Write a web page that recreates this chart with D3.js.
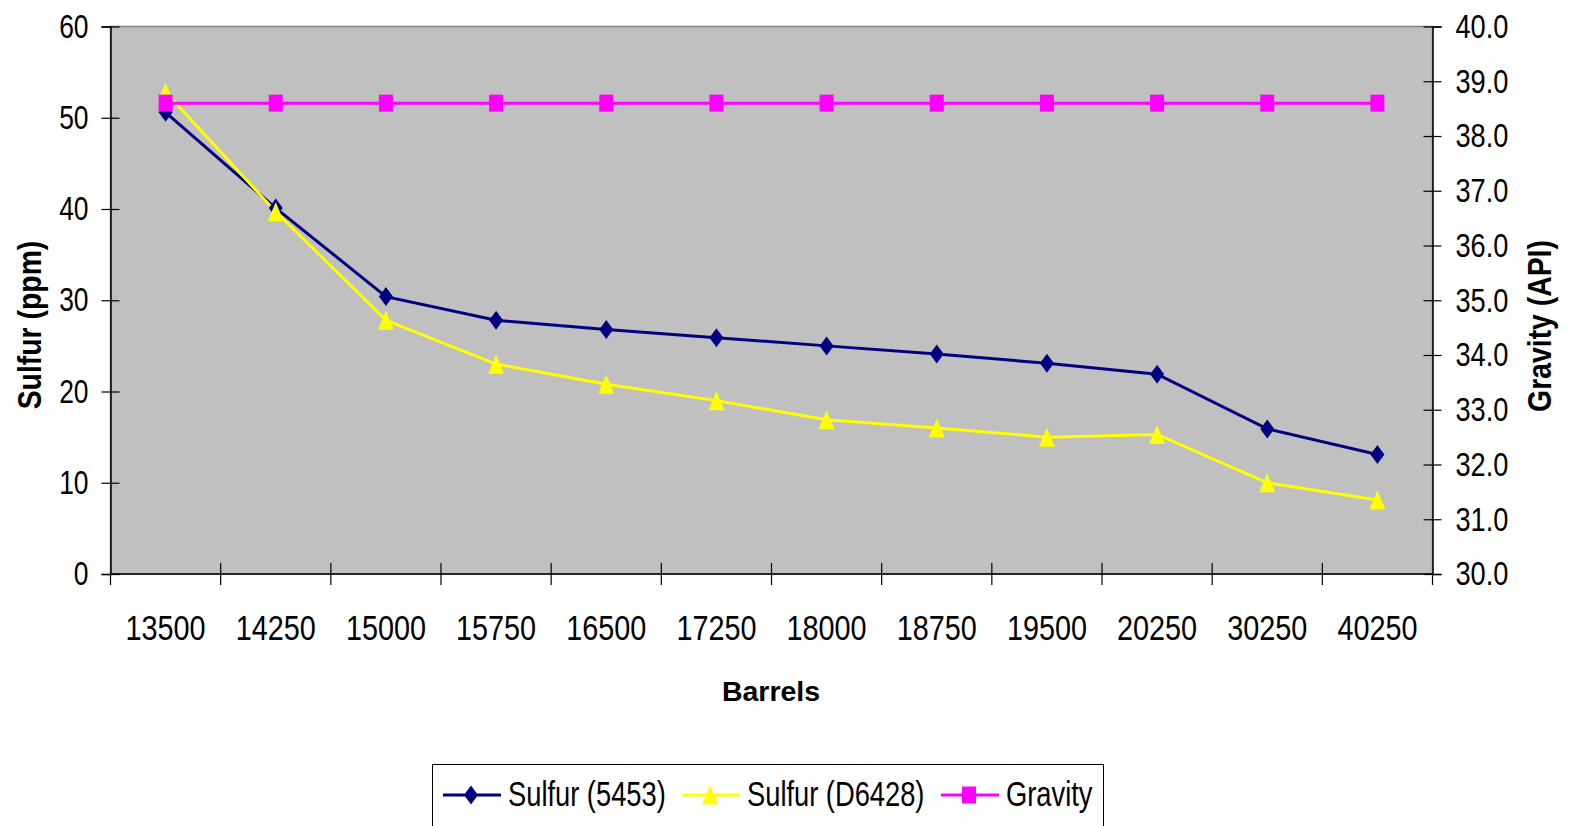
<!DOCTYPE html>
<html><head><meta charset="utf-8">
<script src="https://cdn.jsdelivr.net/npm/d3@7"></script>
<style>
html,body{margin:0;padding:0;background:#fff;}
svg text{font-family:"Liberation Sans",Arial,sans-serif;fill:#000;}
</style></head>
<body>
<svg id="chart" width="1571" height="826"></svg>
<script>
const categories = ["13500","14250","15000","15750","16500","17250","18000","18750","19500","20250","30250","40250"];
const sulfur5453 = [50.6,40.1,30.4,27.8,26.8,25.9,25.0,24.1,23.1,21.9,15.9,13.1];
const sulfurD6428 = [52.8,39.7,27.8,23.0,20.8,19.0,16.9,16.0,15.0,15.3,10.0,8.1];
const gravity = [38.6,38.6,38.6,38.6,38.6,38.6,38.6,38.6,38.6,38.6,38.6,38.6];
const leftTicks = [0,10,20,30,40,50,60];
const rightTicks = [30,31,32,33,34,35,36,37,38,39,40];
const seriesNames = ["Sulfur (5453)","Sulfur (D6428)","Gravity"];

const svg = d3.select("#chart");
const L = 110.5, R = 1432.5, T = 26.5, B = 574;
const SX = 0.8;

const x = d3.scaleBand().domain(categories).range([L, R]).padding(0);
const yL = d3.scaleLinear().domain([0,60]).range([B, T]);
const yR = d3.scaleLinear().domain([30,40]).range([B, T]);
const cx = d => x(d) + x.bandwidth()/2;

// plot area
svg.append("rect").attr("x", L).attr("y", T).attr("width", R-L).attr("height", B-T)
  .attr("fill", "#c0c0c0").attr("stroke", "#808080").attr("stroke-width", 1.5);

// left axis
const gL = svg.append("g").attr("transform", `translate(${L},0)`)
  .call(d3.axisLeft(yL).tickValues(leftTicks).tickSize(9).tickPadding(22).tickFormat(d3.format("d")));
gL.select(".domain").attr("stroke", "#000").attr("stroke-width", 1.5);
gL.selectAll(".tick line").attr("x1", 9).attr("x2", -9).attr("stroke", "#000").attr("stroke-width", 1.2);
gL.selectAll(".tick text").attr("font-size", 33).attr("x", -22/SX).attr("transform", `scale(${SX},1)`);

// right axis
const gR = svg.append("g").attr("transform", `translate(${R},0)`)
  .call(d3.axisRight(yR).tickValues(rightTicks).tickSize(9).tickFormat(d3.format(".1f")));
gR.select(".domain").attr("stroke", "#000").attr("stroke-width", 1.5);
gR.selectAll(".tick line").attr("x1", -9).attr("x2", 9).attr("stroke", "#000").attr("stroke-width", 1.2);
gR.selectAll(".tick text").attr("font-size", 34).attr("x", 23/SX).attr("transform", `scale(${SX},1)`);

// bottom axis (labels)
const gB = svg.append("g").attr("transform", `translate(0,${B})`)
  .call(d3.axisBottom(x).tickSize(0).tickPadding(0));
gB.select(".domain").remove();
gB.selectAll(".tick text").attr("font-size", 36).attr("y", 66).attr("dy", 0)
  .attr("transform", `scale(${SX},1)`);
// category boundary ticks
const bounds = categories.map(c => x(c)).concat([R]);
svg.append("g").selectAll("line").data(bounds).join("line")
  .attr("x1", d => d).attr("x2", d => d)
  .attr("y1", (d,i) => (i === 0 || i === bounds.length-1) ? B : B-11).attr("y2", B+11)
  .attr("stroke", "#000").attr("stroke-width", 1.2);
svg.append("line").attr("x1", L).attr("x2", R).attr("y1", B).attr("y2", B)
  .attr("stroke", "#000").attr("stroke-width", 1.5);

// axis titles
svg.append("text").attr("transform", `translate(41,325) rotate(-90) scale(0.86,1)`)
  .attr("text-anchor", "middle").attr("font-size", 33).attr("font-weight", "bold").text("Sulfur (ppm)");
svg.append("text").attr("transform", `translate(1551,326) rotate(-90) scale(0.86,1)`)
  .attr("text-anchor", "middle").attr("font-size", 33).attr("font-weight", "bold").text("Gravity (API)");
svg.append("text").attr("x", 771).attr("y", 701)
  .attr("text-anchor", "middle").attr("font-size", 28.5).attr("font-weight", "bold").text("Barrels");

// markers
function diamond(w,h){return `M0,${-h/2}L${w/2},0L0,${h/2}L${-w/2},0Z`;}
function triangle(w,h){return `M0,${-h/2}L${w/2},${h/2}L${-w/2},${h/2}Z`;}
function square(w,h){return `M${-w/2},${-h/2}H${w/2}V${h/2}H${-w/2}Z`;}

const series = [
  {name: seriesNames[0], values: sulfur5453, y: yL, color: "#000080", shape: diamond(14,19)},
  {name: seriesNames[1], values: sulfurD6428, y: yL, color: "#ffff00", shape: triangle(16,19)},
  {name: seriesNames[2], values: gravity, y: yR, color: "#ff00ff", shape: square(14,17)}
];

series.forEach(s => {
  const line = d3.line().x((d,i) => cx(categories[i])).y(d => s.y(d));
  svg.append("path").datum(s.values).attr("d", line).attr("fill", "none")
    .attr("stroke", s.color).attr("stroke-width", 3);
});
series.forEach(s => {
  svg.append("g").selectAll("path").data(s.values).join("path")
    .attr("transform", (d,i) => `translate(${cx(categories[i])},${s.y(d)})`)
    .attr("d", s.shape).attr("fill", s.color);
});

// legend
const lg = svg.append("g");
lg.append("rect").attr("x", 432.5).attr("y", 764.5).attr("width", 671).attr("height", 80)
  .attr("fill", "#fff").attr("stroke", "#000").attr("stroke-width", 1);
const legendX = [443, 682, 941];
series.forEach((s,i) => {
  const x0 = legendX[i];
  lg.append("line").attr("x1", x0).attr("x2", x0+58).attr("y1", 795).attr("y2", 795)
    .attr("stroke", s.color).attr("stroke-width", 3);
  lg.append("path").attr("transform", `translate(${x0+28},795)`).attr("d", s.shape).attr("fill", s.color);
  lg.append("text").attr("transform", `translate(${x0+65},806) scale(0.78,1)`)
    .attr("font-size", 35).text(s.name);
});
</script>
</body></html>
